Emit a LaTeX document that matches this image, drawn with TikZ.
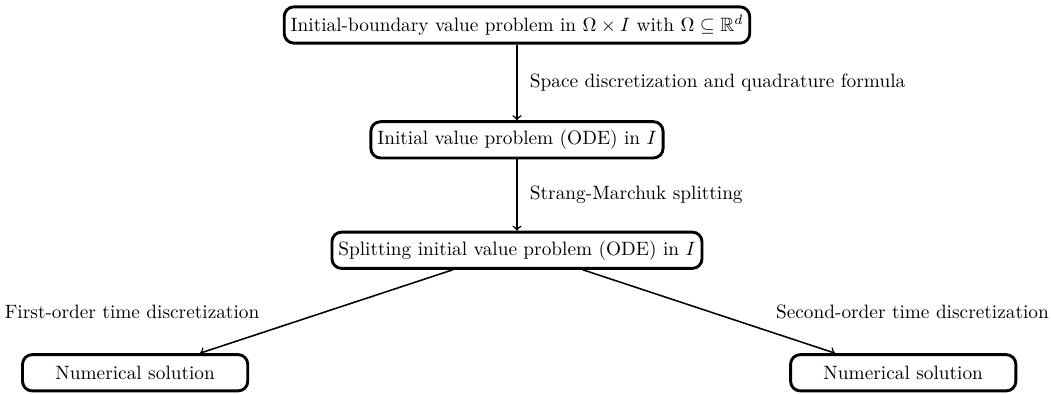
\documentclass[tikz,border=0pt]{standalone}
\usepackage{amssymb}

\begin{document}
\begin{tikzpicture}[
        every node/.style={font=\normalsize},
        stepbox/.style={draw, rounded corners=5pt, line width=1.5pt, minimum height=0.66cm, align=center},
        flow/.style={->, thick}
      ]
        \useasboundingbox (-9.41,0.455) rectangle (9.72,-6.716);
        \node[stepbox] (ibvp) at (0,0) {Initial-boundary value problem in $\Omega\times I$ with $\Omega\subseteq\mathbb{R}^d$};
        \node[stepbox] (ivp) at (0,-2.09) {Initial value problem (ODE) in $I$};
        \node[stepbox] (split) at (0,-4.1) {Splitting initial value problem (ODE) in $I$};
        \node[stepbox, minimum width=4.1cm] (numfirst) at (-6.95,-6.33) {Numerical solution};
        \node[stepbox, minimum width=4.1cm] (numsecond) at (7.03,-6.33) {Numerical solution};

        \draw[flow] (ibvp) -- node[right=3pt] {Space discretization and quadrature formula} (ivp);
        \draw[flow] (ivp) -- node[right=3pt] {Strang-Marchuk splitting} (split);
        \draw[flow] ([xshift=-1.17cm]split.south) -- node[left=31pt] {First-order time discretization} ([xshift=1.18cm]numfirst.north);
        \draw[flow] ([xshift=1.2cm]split.south) -- node[right=31pt] {Second-order time discretization} ([xshift=-1.24cm]numsecond.north);
      \end{tikzpicture}
\end{document}
